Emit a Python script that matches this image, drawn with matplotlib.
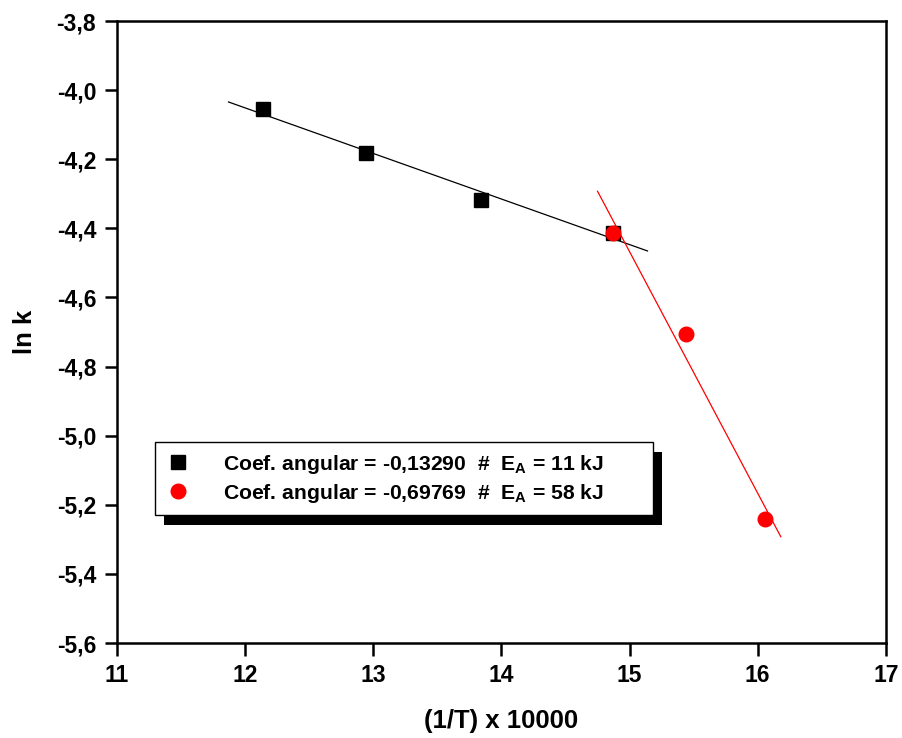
import numpy as np
import matplotlib
matplotlib.use("Agg")
import matplotlib.pyplot as plt
from matplotlib.patches import Rectangle
from matplotlib.ticker import FuncFormatter, MultipleLocator

plt.rcParams['font.family'] = ['Liberation Sans', 'DejaVu Sans']
plt.rcParams['font.weight'] = 'bold'
plt.rcParams['mathtext.fontset'] = 'custom'
plt.rcParams['mathtext.bf'] = 'Liberation Sans:bold'
plt.rcParams['mathtext.rm'] = 'Liberation Sans:bold'
plt.rcParams['mathtext.default'] = 'bf'

# data
x_low = [12.14, 12.94, 13.84, 14.87]
y_low = [-4.055, -4.183, -4.319, -4.412]
x_high = [14.87, 15.44, 16.06]
y_high = [-4.412, -4.707, -5.241]
label_low = "Coef. angular = -0,13290  #  E$_A$ = 11 kJ"
label_high = "Coef. angular = -0,69769  #  E$_A$ = 58 kJ"
fit_range_low = [11.87, 15.14]
fit_range_high = [14.75, 16.18]

fig = plt.figure(figsize=(9.03, 7.38), dpi=100)
ax = fig.add_axes([0.1296, 0.1287, 0.8514, 0.8428])

# fits
pl = np.polyfit(x_low, y_low, 1)
ph = np.polyfit(x_high, y_high, 1)
xl = np.array(fit_range_low)
xh = np.array(fit_range_high)
ax.plot(xl, np.polyval(pl, xl), color='black', lw=0.9, zorder=2)
ax.plot(xh, np.polyval(ph, xh), color='red', lw=0.9, zorder=2)

ax.plot(x_low, y_low, ls='none', marker='s', ms=10, color='black', label=label_low, zorder=3)
ax.plot(x_high, y_high, ls='none', marker='o', ms=10.5, color='red', label=label_high, zorder=4)

ax.set_xlim(11, 17)
ax.set_ylim(-5.6, -3.8)
ax.xaxis.set_major_locator(MultipleLocator(1))
ax.yaxis.set_major_locator(MultipleLocator(0.2))
ax.xaxis.set_major_formatter(FuncFormatter(lambda v, p: f"{v:.0f}"))
ax.yaxis.set_major_formatter(FuncFormatter(lambda v, p: f"{v:.1f}".replace('.', ',')))
ax.tick_params(direction='out', length=9, width=1.8, labelsize=16.5)
ax.tick_params(axis='y', pad=6)
ax.tick_params(axis='x', pad=6)
for s in ax.spines.values():
    s.set_linewidth(1.8)

ax.set_xlabel("(1/T) x 10000", fontsize=18.5, fontweight='bold', labelpad=16)
ax.set_ylabel("ln k", fontsize=18.5, fontweight='bold', labelpad=14)

x0, y0, x1, y1 = 155 / 903, 1 - 513 / 738, 653 / 903, 1 - 442 / 738
leg = ax.legend(loc='upper left', bbox_to_anchor=(x0, y0, x1 - x0, y1 - y0),
                bbox_transform=fig.transFigure, mode='expand', fontsize=15.2,
                frameon=True, fancybox=False, edgecolor='black', framealpha=1,
                handlelength=1.2, handletextpad=1.5, borderpad=0.5,
                labelspacing=0.3, borderaxespad=0)
leg.get_frame().set_linewidth(1.0)
leg.set_zorder(6)

fig.canvas.draw()
bb = leg.get_window_extent().transformed(fig.transFigure.inverted())
dx, dy = 9 / 903, 10 / 738
shadow = Rectangle((bb.x0 + dx, bb.y0 - dy), bb.width, bb.height,
                   transform=fig.transFigure, facecolor='black', edgecolor='none', zorder=5)
ax.add_artist(shadow)
shadow.set_clip_on(False)

fig.savefig("out.png", dpi=100)
